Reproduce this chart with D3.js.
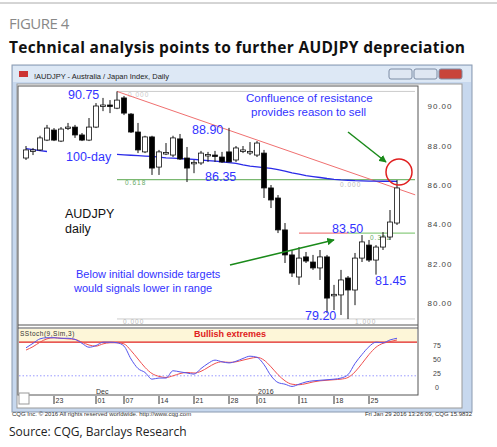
<!DOCTYPE html>
<html><head><meta charset="utf-8">
<script src="https://cdn.jsdelivr.net/npm/d3@7"></script>
<style>
body{margin:0;background:#fff;}
text{font-family:"Liberation Sans",Arial,sans-serif;}
text.os{font-family:"Open Sans",sans-serif;}
</style></head>
<body>
<svg id="c" width="497" height="447"></svg>
<script>
// candles [open, high, low, close], one per trading day from Nov 17 2015
const candles = [
  [87.37,87.98,87.27,87.78],[87.73,87.88,87.52,87.78],[87.78,88.5,87.73,88.39],[88.28,89.05,88.23,88.89],
  [88.79,88.89,88.23,88.28],[88.23,88.94,88.18,88.84],[88.9,89.15,88.79,88.94],[88.94,89.05,88.39,88.54],
  [88.54,88.64,88.23,88.28],[88.28,89.4,88.23,88.94],[88.94,90.16,88.89,90.01],[90.01,90.42,89.75,90.06],
  [90.06,90.31,89.65,90.01],[89.9,90.75,89.85,90.31],[90.42,90.52,89.55,89.65],[89.6,89.65,88.64,88.69],
  [88.69,89.15,87.62,87.78],[87.68,88.5,87.62,88.44],[88.44,88.5,86.51,86.86],[86.91,87.78,86.51,87.68],
  [87.6,88.13,87.52,87.65],[87.52,88.5,87.42,88.39],[88.34,88.59,87.27,87.32],[87.37,87.93,86.15,86.86],
  [87.1,87.27,86.6,87.15],[87.12,87.73,87.02,87.62],[87.5,87.68,87.17,87.55],[87.52,87.73,87.17,87.5],
  [87.42,87.68,87.12,87.17],[87.68,88.9,87.2,87.17],[87.27,87.98,87.17,87.88],[87.75,87.98,87.62,87.78],
  [87.68,88.18,87.52,87.7],[87.52,88.23,87.42,88.13],[87.62,87.78,85.34,85.85],[85.85,86.0,84.83,85.24],
  [85.34,85.49,83.56,83.72],[83.72,84.07,82.04,82.45],[82.45,82.7,81.33,81.53],[81.33,82.85,80.93,82.29],
  [82.35,82.6,82.04,82.14],[82.09,82.45,81.69,81.79],[81.79,82.7,81.18,82.35],[82.35,82.45,79.5,80.26],
  [80.4,80.93,79.65,80.45],[80.42,81.69,79.4,81.18],[81.28,81.38,79.2,80.67],[80.67,82.55,79.9,82.29],
  [82.29,83.46,82.09,83.11],[82.95,83.21,82.09,82.19],[82.19,82.95,81.45,82.85],[82.85,83.61,82.7,83.36],
  [83.36,84.73,83.21,84.12],[84.07,86.25,83.97,85.85]
];
// 100-day moving average (null where the label hides it)
const ma100 = [87.85,87.8,87.75,87.7,null,null,null,null,null,null,null,null,null,
  87.55,87.53,87.51,87.49,87.47,87.45,87.42,87.38,87.36,87.34,87.32,87.3,87.27,87.24,87.21,87.18,
  87.14,87.1,87.02,86.96,86.92,86.88,86.84,86.78,86.7,86.62,86.55,86.48,86.43,86.38,86.33,86.29,
  86.26,86.24,86.22,86.21,86.2,86.2,86.19,86.19,86.18];
const stochK = [70,78,86,88,88,87,87,85,78,71,74,80,80,79,73,50,33,26,14,16,16,29,27,25,23,33,42,48,45,
  43,46,51,55,53,40,20,8,5,1,5,9,11,12,13,14,16,22,42,58,72,80,79,84,87];
const stochD = [66,72,80,86,88,87,86,85,80,75,73,77,79,79,77,65,50,35,24,19,17,20,24,26,25,28,35,42,45,
  44,45,48,51,53,48,36,22,11,5,4,6,9,11,12,13,14,17,27,42,58,71,78,81,84];
const priceTicks = [80,82,84,86,88,90];
const stochTicks = [0,25,50,75];
const dateTicks = [[4,"23"],[10,"01"],[14,"07"],[19,"14"],[24,"21"],[29,"28"],[33,"01"],[39,"11"],[44,"18"],[49,"25"]];
const trend = [[13,90.75],[55.6,85.5]];

const svg = d3.select("#c");
const x = d3.scaleLinear().domain([0,1]).range([26,33]);
const y = d3.scaleLinear().domain([86,88]).range([185,145.6]);
const ys = d3.scaleLinear().domain([0,100]).range([387,331]);
const blue = "#3333ff";

// header
svg.append("line").attr("x1",0).attr("x2",497).attr("y1",3).attr("y2",3).attr("stroke","#aaa");
svg.append("text").attr("class","os").attr("x",9).attr("y",29).attr("font-size",15).attr("fill","#888")
  .attr("letter-spacing",-0.5).text("FIGURE 4");
svg.append("text").attr("class","os").attr("x",9).attr("y",53).attr("font-size",15.5).attr("font-weight","bold")
  .attr("fill","#111").attr("textLength",456).text("Technical analysis points to further AUDJPY depreciation");

// window frame
svg.append("rect").attr("x",12).attr("y",65).attr("width",460).attr("height",347).attr("fill","#c7d8ee").attr("stroke","#8a9ab0");
svg.append("rect").attr("x",13).attr("y",66).attr("width",458).attr("height",16).attr("fill","#dde8f5");
svg.append("rect").attr("x",19).attr("y",71).attr("width",9).attr("height",6).attr("fill","#c33");
svg.append("text").attr("x",34).attr("y",79).attr("font-size",7.5).attr("fill","#222")
  .text("!AUDJPY - Australia / Japan Index, Daily");
[[389,"#dfe7f2"],[414,"#dfe7f2"],[439,"#c8443a"]].forEach(([bx,col]) => {
  svg.append("rect").attr("x",bx).attr("y",69).attr("width",23).attr("height",10).attr("rx",2)
    .attr("fill",col).attr("stroke","#7d8da5");
});
svg.append("rect").attr("x",17).attr("y",84).attr("width",445).attr("height",324).attr("fill","#fff").attr("stroke","#999");
svg.append("rect").attr("x",18).attr("y",86).attr("width",400).attr("height",309).attr("fill","#fff").attr("stroke","#555");
svg.append("line").attr("x1",18).attr("x2",418).attr("y1",325).attr("y2",325).attr("stroke","#555");
svg.append("line").attr("x1",18).attr("x2",418).attr("y1",328).attr("y2",328).attr("stroke","#555");

// price axis
svg.selectAll(".pt").data(priceTicks).join("text").attr("x",440).attr("y",d=>y(d)+3)
  .attr("text-anchor","middle").attr("font-size",8).attr("fill","#444").attr("letter-spacing",1)
  .text(d=>d.toFixed(2));

// fib / level lines
const xr = 415;
svg.append("line").attr("x1",x(13)).attr("x2",xr).attr("y1",y(90.75)).attr("y2",y(90.75)).attr("stroke","#ccc");
svg.append("line").attr("x1",x(13)).attr("x2",xr).attr("y1",y(79.2)).attr("y2",y(79.2)).attr("stroke","#ccc");
svg.append("line").attr("x1",x(13)).attr("x2",xr).attr("y1",y(86.27)).attr("y2",y(86.27)).attr("stroke","#7ab870").attr("stroke-width",1.2);
svg.append("line").attr("x1",x(46)).attr("x2",xr).attr("y1",y(83.56)).attr("y2",y(83.56)).attr("stroke","#8ccc80").attr("stroke-width",1.2);
svg.append("line").attr("x1",x(39)).attr("x2",x(46)).attr("y1",y(83.56)).attr("y2",y(83.56)).attr("stroke","#f08080").attr("stroke-width",1.2);
const small = (tx,ty,t,col) => svg.append("text").attr("x",tx).attr("y",ty).attr("font-size",6.5)
  .attr("fill",col).attr("letter-spacing",1).text(t);
small(128,97,"0.000","#ccc"); small(125,185,"0.618","#6a6"); small(340,187,"0.000","#bbb");
small(370,240,"0.382","#6a6"); small(123,324,"0.000","#bbb"); small(355,324,"1.000","#bbb");

// red trendline
svg.append("line").attr("x1",x(trend[0][0])).attr("y1",y(trend[0][1])).attr("x2",x(trend[1][0])).attr("y2",y(trend[1][1]))
  .attr("stroke","#f07070").attr("stroke-width",1);

// moving average
svg.append("path").datum(ma100).attr("fill","none").attr("stroke","#2a2ae8").attr("stroke-width",1.3)
  .attr("d", d3.line().defined(d=>d!==null).x((d,i)=>x(i)).y(d=>y(d)));

// candles
const g = svg.append("g");
candles.forEach((c,i) => {
  const [o,h,l,cl] = c;
  g.append("line").attr("x1",x(i)).attr("x2",x(i)).attr("y1",y(h)).attr("y2",y(l)).attr("stroke","#111");
  const top = y(Math.max(o,cl)), ht = Math.max(1.5, Math.abs(y(o)-y(cl)));
  g.append("rect").attr("x",x(i)-2.5).attr("y",top).attr("width",5).attr("height",ht)
    .attr("fill", cl>=o ? "#fff" : "#000").attr("stroke","#111").attr("stroke-width",0.8);
});

// annotations
const lab = (tx,ty,t,col,sz) => svg.append("text").attr("x",tx).attr("y",ty).attr("font-size",sz||12.5)
  .attr("fill",col||blue).text(t);
lab(68,99,"90.75"); lab(192,134,"88.90"); lab(66,161,"100-day"); lab(205,181,"86.35");
lab(246,102,"Confluence of resistance",blue,11.5); lab(251,116,"provides reason to sell",blue,11.5);
lab(65,218,"AUDJPY","#111",12.5); lab(65,233,"daily","#111",12.5);
lab(332,233,"83.50"); lab(375,285,"81.45"); lab(305,320,"79.20");
lab(76,278,"Below initial downside targets",blue,11); lab(74,292,"would signals lower in range",blue,11);

// green arrows
svg.append("defs").append("marker").attr("id","ah").attr("viewBox","0 0 10 10").attr("refX",9).attr("refY",5)
  .attr("markerWidth",5).attr("markerHeight",5).attr("orient","auto")
  .append("path").attr("d","M0,0L10,5L0,10z").attr("fill","#1a8a1a");
svg.append("line").attr("x1",230).attr("y1",265).attr("x2",334).attr("y2",240)
  .attr("stroke","#1a8a1a").attr("stroke-width",1.5).attr("marker-end","url(#ah)");
svg.append("line").attr("x1",348).attr("y1",132).attr("x2",386).attr("y2",162)
  .attr("stroke","#1a8a1a").attr("stroke-width",1.5).attr("marker-end","url(#ah)");
svg.append("circle").attr("cx",399).attr("cy",172).attr("r",13).attr("fill","none").attr("stroke","#e02020").attr("stroke-width",1.5);

// stochastic panel
svg.append("rect").attr("x",19).attr("y",329).attr("width",398).attr("height",ys(80)-329).attr("fill","#fdf6d8");
svg.append("line").attr("x1",19).attr("x2",417).attr("y1",ys(80)).attr("y2",ys(80)).attr("stroke","#e02020").attr("stroke-width",1.3);
svg.append("line").attr("x1",19).attr("x2",417).attr("y1",ys(20)).attr("y2",ys(20)).attr("stroke","#9999ff").attr("stroke-dasharray","1.5,2");
svg.append("text").attr("x",20).attr("y",336).attr("font-size",6.5).attr("fill","#333").attr("letter-spacing",0.5).text("SStoch(9,Sim,3)");
svg.append("text").attr("x",194).attr("y",337).attr("font-size",9).attr("font-weight","bold").attr("fill","#e02020").text("Bullish extremes");
const sl = d3.line().x((d,i)=>x(i)).y(d=>ys(d)).curve(d3.curveMonotoneX);
svg.append("path").datum(stochD).attr("fill","none").attr("stroke","#f05050").attr("d",sl);
svg.append("path").datum(stochK).attr("fill","none").attr("stroke","#5555ee").attr("d",sl);
svg.selectAll(".st").data(stochTicks).join("text").attr("x",437).attr("y",d=>ys(d)+3)
  .attr("text-anchor","middle").attr("font-size",7).attr("fill","#444").text(d=>d);

// date axis
svg.append("rect").attr("x",19).attr("y",393).attr("width",10).attr("height",11).attr("fill","#fff").attr("stroke","#999");
dateTicks.forEach(([i,t]) => {
  svg.append("line").attr("x1",x(i)).attr("x2",x(i)).attr("y1",396).attr("y2",404).attr("stroke","#333");
  svg.append("text").attr("x",x(i)+1.5).attr("y",403).attr("font-size",7).attr("fill","#333").text(t);
});
svg.append("text").attr("x",96).attr("y",394).attr("font-size",7).attr("fill","#333").text("Dec");
svg.append("text").attr("x",258).attr("y",394).attr("font-size",7).attr("fill","#333").text("2016");

// footer
svg.append("text").attr("x",12).attr("y",416).attr("font-size",6).attr("fill","#333").text("CQG Inc. © 2016 All rights reserved worldwide. http://www.cqg.com");
svg.append("text").attr("x",472).attr("y",416).attr("text-anchor","end").attr("font-size",6).attr("fill","#333").text("Fri Jan 29 2016 13:26:09, CQG 15.9832");
svg.append("text").attr("class","os").attr("x",9).attr("y",436).attr("font-size",12).attr("fill","#222").text("Source: CQG, Barclays Research");
</script>
</body></html>
